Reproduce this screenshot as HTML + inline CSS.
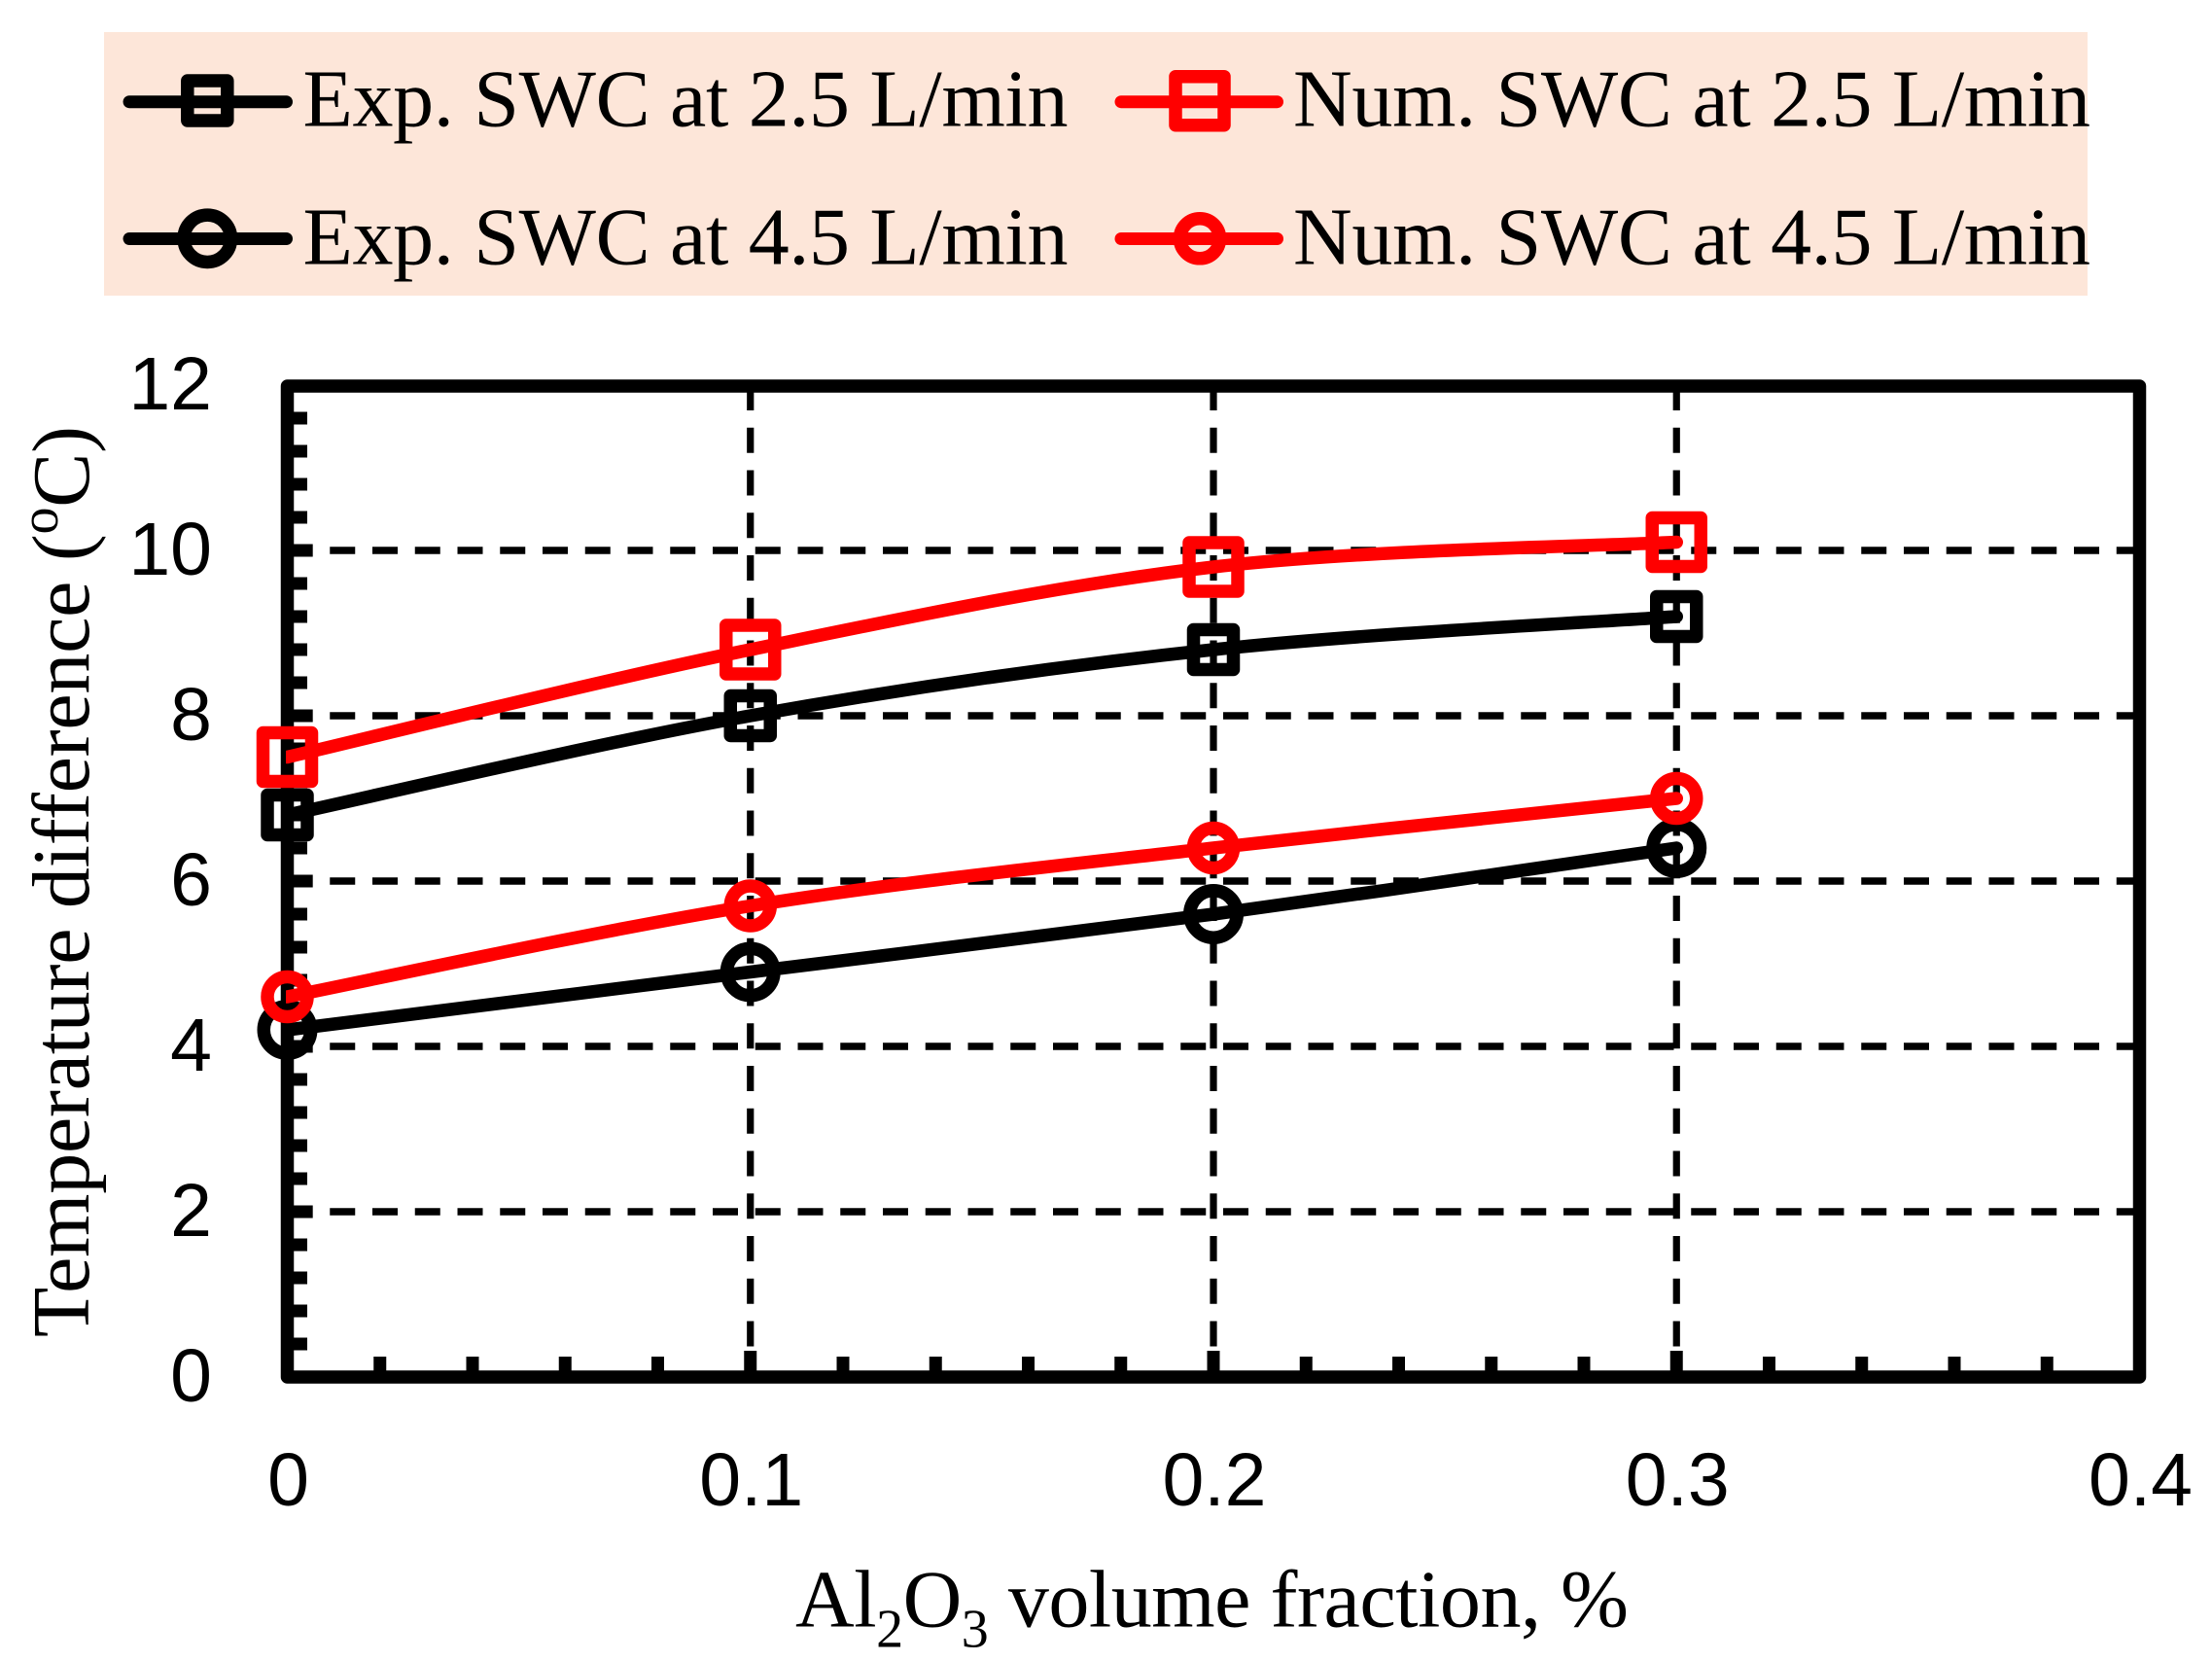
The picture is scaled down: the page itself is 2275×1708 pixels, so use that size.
<!DOCTYPE html>
<html lang="en">
<head>
<meta charset="utf-8">
<title>Temperature difference vs Al2O3 volume fraction</title>
<style>
  html, body { margin: 0; padding: 0; background: #ffffff; }
  svg { display: block; }
  .serif { font-family: "Liberation Serif", serif; fill: #000; }
  .sans { font-family: "Liberation Sans", sans-serif; fill: #000; }
</style>
</head>
<body>
<svg id="chart" xmlns="http://www.w3.org/2000/svg" width="2275" height="1708" viewBox="0 0 2275 1708">
  <defs>
    <clipPath id="plot-left-clip"><rect x="294" y="0" width="1981" height="1708"></rect></clipPath>
  </defs>
  <rect x="0" y="0" width="2275" height="1708" fill="#ffffff"></rect>

  <g>
    <rect x="107" y="33" width="2040" height="271" fill="#fde6d9"></rect>
    <g>
      <line x1="133" y1="104.7" x2="294.5" y2="104.7" stroke="#000" stroke-width="13" stroke-linecap="round"></line>
      <rect x="192.8" y="83" width="41" height="41" fill="none" stroke="#000" stroke-width="13.5" stroke-linejoin="round"></rect>
      <text class="serif" x="311.5" y="129.3" font-size="84" textLength="787">Exp. SWC at 2.5 L/min</text>
    </g>
    <g>
      <line x1="1153" y1="104.7" x2="1313.5" y2="104.7" stroke="#ff0000" stroke-width="13" stroke-linecap="round"></line>
      <rect x="1209" y="78.7" width="50" height="50" fill="none" stroke="#ff0000" stroke-width="13.5" stroke-linejoin="round"></rect>
      <text class="serif" x="1330" y="129.3" font-size="84" textLength="820">Num. SWC at 2.5 L/min</text>
    </g>
    <g>
      <line x1="133" y1="245.5" x2="294.5" y2="245.5" stroke="#000" stroke-width="13" stroke-linecap="round"></line>
      <circle cx="213.3" cy="245.3" r="24.2" fill="none" stroke="#000" stroke-width="13.5"></circle>
      <text class="serif" x="311.5" y="271.7" font-size="84" textLength="787">Exp. SWC at 4.5 L/min</text>
    </g>
    <g>
      <line x1="1153" y1="245.5" x2="1313.5" y2="245.5" stroke="#ff0000" stroke-width="13" stroke-linecap="round"></line>
      <circle cx="1234" cy="245.3" r="20.5" fill="none" stroke="#ff0000" stroke-width="13.5"></circle>
      <text class="serif" x="1330" y="271.7" font-size="84" textLength="820">Num. SWC at 4.5 L/min</text>
    </g>
  </g>

  <g id="grid"></g>
  <g id="ticks"></g>
  <rect x="295.5" y="397" width="1905" height="1019" fill="none" stroke="#000" stroke-width="13.5" stroke-linejoin="round"></rect>
  <g id="tick-labels"></g>
  <g id="series"></g>

  <text class="serif" x="818" y="1672.7" font-size="84" textLength="857">Al<tspan font-size="56" dy="21">2</tspan><tspan dy="-21">O</tspan><tspan font-size="56" dy="21">3</tspan><tspan dy="-21"> volume fraction, %</tspan></text>
  <text class="serif" transform="translate(91 1375) rotate(-90)" x="0" y="0" font-size="84" textLength="937">Temperature difference (<tspan font-size="56" dy="-32">o</tspan><tspan dy="32">C)</tspan></text>
</svg>

<script>
const xCategories = [0, 0.1, 0.2, 0.3];
const expSwc25 = [6.8, 8.0, 8.8, 9.2];
const numSwc25 = [7.5, 8.8, 9.8, 10.1];
const expSwc45 = [4.2, 4.9, 5.6, 6.4];
const numSwc45 = [4.6, 5.7, 6.4, 7.0];
const xTickValues = [0, 0.1, 0.2, 0.3, 0.4];
const xTickLabels = ['0', '0.1', '0.2', '0.3', '0.4'];
const yTickValues = [0, 2, 4, 6, 8, 10, 12];
const yTickLabels = ['0', '2', '4', '6', '8', '10', '12'];
const xMinorStep = 0.02;
const yMinorStep = 0.4;

const SVG_NS = 'http://www.w3.org/2000/svg';
const xScale = function (v) { return 295.5 + (v / 0.4) * 1905; };
const yScale = function (v) { return 1416 - (v / 12) * 1020; };

function make(parentId, tag, attrs) {
  const el = document.createElementNS(SVG_NS, tag);
  Object.keys(attrs).forEach(function (k) { el.setAttribute(k, attrs[k]); });
  document.getElementById(parentId).appendChild(el);
  return el;
}

function isMultiple(v, step) {
  return Math.abs(v / step - Math.round(v / step)) < 1e-6;
}

yTickValues.forEach(function (v) {
  if (v === 0 || v === 12) return;
  const grid = make('grid', 'line', {
    x1: xScale(0), x2: xScale(0.4), y1: yScale(v), y2: yScale(v),
    stroke: '#000', 'stroke-width': 7.6, 'stroke-dasharray': '26 17.75'
  });
  
  
});

xTickValues.forEach(function (v) {
  if (v === 0 || v === 0.4) return;
  const grid = make('grid', 'line', {
    x1: xScale(v), x2: xScale(v), y1: yScale(12), y2: yScale(0),
    stroke: '#000', 'stroke-width': 7.2, 'stroke-dasharray': '26 17.75'
  });
  
  
});

for (let i = 1; i < Math.round(12 / yMinorStep); i++) {
  const v = i * yMinorStep;
  const major = isMultiple(v, 2);
  const tick = make('ticks', 'line', {
    x1: xScale(0), x2: major ? 321.7 : 316, y1: yScale(v), y2: yScale(v),
    stroke: '#000', 'stroke-width': 13
  });
  
  
}

for (let i = 1; i < Math.round(0.4 / xMinorStep); i++) {
  const v = i * xMinorStep;
  const major = isMultiple(v, 0.1);
  const tick = make('ticks', 'line', {
    x1: xScale(v), x2: xScale(v), y1: yScale(0), y2: major ? 1389 : 1395,
    stroke: '#000', 'stroke-width': 13
  });
  
  
}

xTickValues.forEach(function (v, i) {
  const label = make('tick-labels', 'text', {
    x: xScale(v) + 1, y: 1548, 'text-anchor': 'middle', 'font-size': 77, 'class': 'sans'
  });
  
  
  label.textContent = xTickLabels[i];
});

yTickValues.forEach(function (v, i) {
  const label = make('tick-labels', 'text', {
    x: 218, y: yScale(v) + 25, 'text-anchor': 'end', 'font-size': 77, 'class': 'sans'
  });
  
  
  label.textContent = yTickLabels[i];
});

function smoothPath(values) {
  const pts = values.map(function (v, i) { return [xScale(xCategories[i]), yScale(v)]; });
  let d = 'M' + pts[0][0] + ' ' + pts[0][1];
  for (let i = 0; i < pts.length - 1; i++) {
    const p0 = pts[Math.max(i - 1, 0)];
    const p1 = pts[i];
    const p2 = pts[i + 1];
    const p3 = pts[Math.min(i + 2, pts.length - 1)];
    const c1x = p1[0] + (p2[0] - p0[0]) / 6;
    const c1y = p1[1] + (p2[1] - p0[1]) / 6;
    const c2x = p2[0] - (p3[0] - p1[0]) / 6;
    const c2y = p2[1] - (p3[1] - p1[1]) / 6;
    d += ' C' + c1x + ' ' + c1y + ' ' + c2x + ' ' + c2y + ' ' + p2[0] + ' ' + p2[1];
  }
  return d;
}

function drawSeries(values, name, color, shape, size) {
  values.forEach(function (v, i) {
    const cx = xScale(xCategories[i]);
    const cy = yScale(v);
    let marker;
    if (shape === 'square') {
      marker = make('series', 'rect', {
        x: cx - size / 2, y: cy - size / 2, width: size, height: size,
        fill: 'none', stroke: color, 'stroke-width': 13.5, 'stroke-linejoin': 'round'
      });
    } else {
      marker = make('series', 'circle', {
        cx: cx, cy: cy, r: size / 2,
        fill: 'none', stroke: color, 'stroke-width': 13.5
      });
    }
    
    
  });
  const path = make('series', 'path', {
    d: smoothPath(values), fill: 'none', stroke: color, 'stroke-width': 13.5,
    'stroke-linecap': 'round', 'stroke-linejoin': 'round', 'clip-path': 'url(#plot-left-clip)'
  });
  
  
}

drawSeries(expSwc25, 'exp-swc-2-5', '#000000', 'square', 41);
drawSeries(numSwc25, 'num-swc-2-5', '#ff0000', 'square', 50);
drawSeries(expSwc45, 'exp-swc-4-5', '#000000', 'circle', 48.5);
drawSeries(numSwc45, 'num-swc-4-5', '#ff0000', 'circle', 41);
</script>
</body>
</html>
